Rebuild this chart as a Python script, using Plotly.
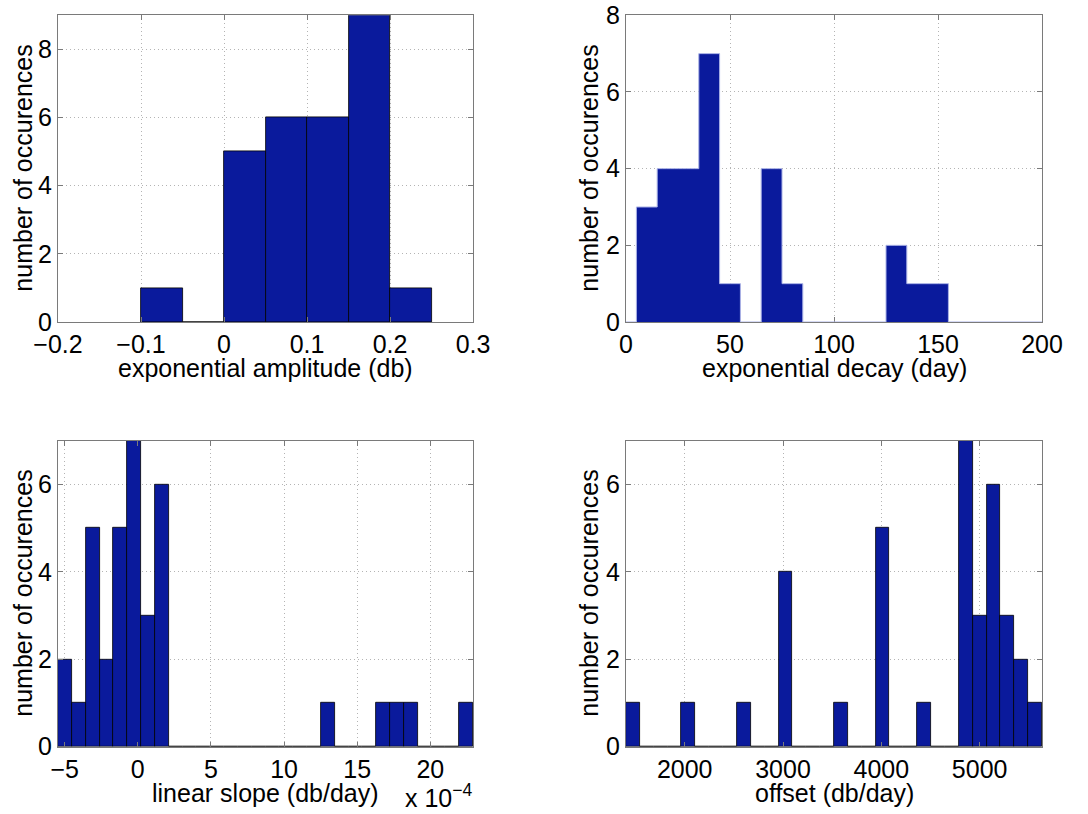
import numpy as np
import plotly.graph_objects as go

# ---- histogram data -------------------------------------------------------
# exponential amplitude (db), 0.05-wide bins
amp_centers = [-0.075, -0.025, 0.025, 0.075, 0.125, 0.175, 0.225]
amp_counts = [1, 0, 5, 6, 6, 9, 1]
amp_width = 0.05

# exponential decay (day), 10-day bins
decay_centers = [0, 10, 20, 30, 40, 50, 60, 70, 80, 90, 100,
                 110, 120, 130, 140, 150, 160, 170, 180, 190, 200]
decay_counts = [0, 3, 4, 4, 7, 1, 0, 4, 1, 0, 0,
                0, 0, 2, 1, 1, 0, 0, 0, 0, 0]
decay_width = 10

# linear slope (db/day, in units of 1e-4), 30 bins over the data range
slope_lo, slope_hi = -5.455, 22.915
slope_counts = [2, 1, 5, 2, 5, 7, 3, 6, 0, 0,
                0, 0, 0, 0, 0, 0, 0, 0, 0, 1,
                0, 0, 0, 1, 1, 1, 0, 0, 0, 1]

# offset (db/day), 30 bins over the data range
offset_lo, offset_hi = 1403.0, 5634.0
offset_counts = [1, 0, 0, 0, 1, 0, 0, 0, 1, 0,
                 0, 4, 0, 0, 0, 1, 0, 0, 5, 0,
                 0, 1, 0, 0, 7, 3, 6, 3, 2, 1]

# ---- styling --------------------------------------------------------------
BAR = "#0A1A9C"
EDGE = "#000000"
FRAME = "#7a7a7a"
GRID = "#b4b4b4"
FONT = "Liberation Sans, Arial, Helvetica, sans-serif"
FS = 25
W, H = 1088, 814


def bin_centers(lo, hi, n):
    edges = np.linspace(lo, hi, n + 1)
    return 0.5 * (edges[:-1] + edges[1:]), (hi - lo) / n


def px_x(p):
    return p / W


def px_y(p):
    return 1 - p / H


fig = go.Figure()

# panel 1: exponential amplitude
fig.add_trace(go.Bar(x=amp_centers, y=amp_counts, width=amp_width,
                     marker=dict(color=BAR, line=dict(color=EDGE, width=0.8)),
                     xaxis="x", yaxis="y", showlegend=False))

# panel 2: exponential decay drawn as one filled outline
dx, dy = [], []
for c, n in zip(decay_centers, decay_counts):
    dx += [c - decay_width / 2, c + decay_width / 2]
    dy += [n, n]
dx = [dx[0]] + dx + [dx[-1]]
dy = [0] + dy + [0]
fig.add_trace(go.Scatter(x=dx, y=dy, mode="lines", fill="tozeroy",
                         fillcolor=BAR, line=dict(color="#aab2e6", width=1),
                         xaxis="x2", yaxis="y2", showlegend=False))

# panel 3: linear slope
sc, sw = bin_centers(slope_lo, slope_hi, len(slope_counts))
fig.add_trace(go.Bar(x=sc, y=slope_counts, width=sw,
                     marker=dict(color=BAR, line=dict(color=EDGE, width=0.8)),
                     xaxis="x3", yaxis="y3", showlegend=False))

# panel 4: offset
oc, ow = bin_centers(offset_lo, offset_hi, len(offset_counts))
fig.add_trace(go.Bar(x=oc, y=offset_counts, width=ow,
                     marker=dict(color=BAR, line=dict(color=EDGE, width=0.8)),
                     xaxis="x4", yaxis="y4", showlegend=False))

# plot-area pixel boxes: (left, right, top, bottom)
boxes = {
    1: (58, 473, 15.3, 322),
    2: (626, 1042, 15.3, 322),
    3: (58, 473, 440.7, 746.7),
    4: (626, 1042, 440.7, 746.7),
}

axis_common = dict(showline=True, linecolor=FRAME, linewidth=1, mirror="ticks",
                   ticks="inside", ticklen=5, tickcolor=FRAME, tickwidth=1,
                   showgrid=True, gridcolor=GRID, griddash="1px,3px", gridwidth=1,
                   zeroline=False, automargin=False,
                   tickfont=dict(family=FONT, size=FS, color="black"))

xranges = {1: [-0.2, 0.3], 2: [0, 200], 3: [slope_lo, slope_hi], 4: [offset_lo, offset_hi]}
xticks = {1: [-0.2, -0.1, 0, 0.1, 0.2, 0.3], 2: [0, 50, 100, 150, 200],
          3: [-5, 0, 5, 10, 15, 20], 4: [2000, 3000, 4000, 5000]}
xtext = {1: ["\u22120.2", "\u22120.1", "0", "0.1", "0.2", "0.3"],
         2: ["0", "50", "100", "150", "200"],
         3: ["\u22125", "0", "5", "10", "15", "20"],
         4: ["2000", "3000", "4000", "5000"]}
yranges = {1: [0, 9], 2: [0, 8], 3: [0, 7], 4: [0, 7]}
yticks = {1: [0, 2, 4, 6, 8], 2: [0, 2, 4, 6, 8], 3: [0, 2, 4, 6], 4: [0, 2, 4, 6]}

layout = dict(width=W, height=H,
              margin=dict(l=0, r=0, t=0, b=0, pad=0, autoexpand=False),
              paper_bgcolor="white", plot_bgcolor="white",
              font=dict(family=FONT, size=FS, color="black"), bargap=0)

for i, (l, r, t, b) in boxes.items():
    sx = "" if i == 1 else str(i)
    xa = dict(axis_common, domain=[px_x(l), px_x(r)], range=xranges[i],
              tickmode="array", tickvals=xticks[i], ticktext=xtext[i],
              anchor="y" + sx)
    ya = dict(axis_common, domain=[px_y(b), px_y(t)], range=yranges[i],
              tickmode="array", tickvals=yticks[i], anchor="x" + sx)
    if i == 2:
        xa["layer"] = "below traces"
    layout["xaxis" + sx] = xa
    layout["yaxis" + sx] = ya

fig.update_layout(**layout)

xlabels = {1: "exponential amplitude (db)", 2: "exponential decay (day)",
           3: "linear slope (db/day)", 4: "offset (db/day)"}
annotations = []
for i, (l, r, t, b) in boxes.items():
    annotations.append(dict(text=xlabels[i], xref="paper", yref="paper",
                            x=px_x((l + r) / 2), y=px_y(b + 46),
                            xanchor="center", yanchor="middle", showarrow=False,
                            font=dict(family=FONT, size=FS, color="black")))
    yl_x = 23 if l < 300 else 589
    annotations.append(dict(text="number of occurences", xref="paper", yref="paper",
                            x=px_x(yl_x), y=px_y((t + b) / 2), textangle=-90,
                            xanchor="center", yanchor="middle", showarrow=False,
                            font=dict(family=FONT, size=FS, color="black")))

# exponent marker of the slope axis
annotations.append(dict(text="x 10<sup>\u22124</sup>", xref="paper", yref="paper",
                        x=px_x(474), y=px_y(814), xanchor="right", yanchor="bottom",
                        showarrow=False,
                        font=dict(family=FONT, size=FS, color="black")))

fig.update_layout(annotations=annotations)

fig.write_html("out.html")
